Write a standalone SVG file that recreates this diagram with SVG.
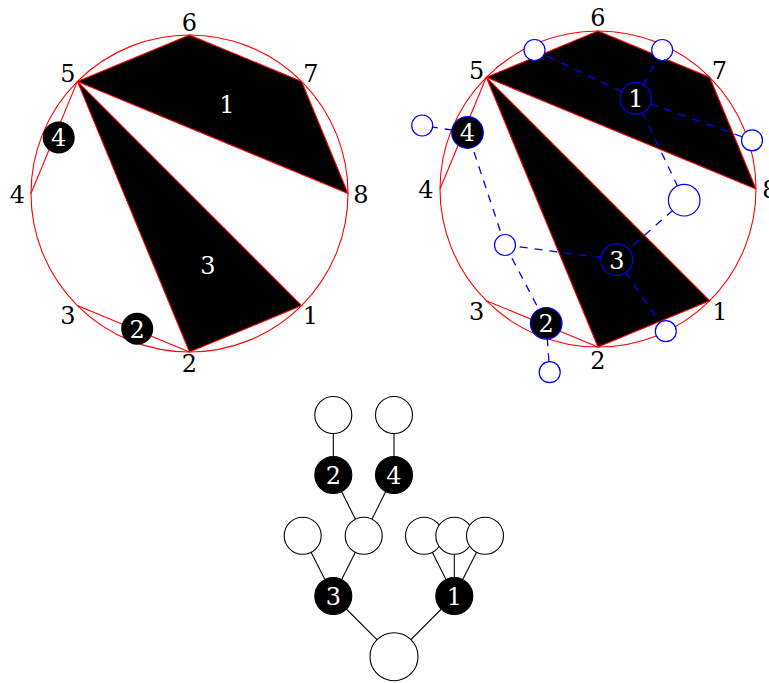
<svg xmlns="http://www.w3.org/2000/svg" width="769" height="683" viewBox="0 0 769 683">
<style>
.bg{fill:#ffffff}
.ring{fill:none;stroke:#ff0000;stroke-width:1.1}
.poly{fill:#000000;stroke:#ff0000;stroke-width:1.1;stroke-linejoin:round}
.chord{fill:none;stroke:#ff0000;stroke-width:1.1}
text{font-family:'DejaVu Serif',serif;font-size:24px;text-anchor:middle}
.lbl{fill:#000000}
.wl{fill:#ffffff}
.blk{fill:#000000;stroke:none}
.bdash{stroke:#0000ff;stroke-width:1.3;stroke-dasharray:8 7;fill:none}
.bo{fill:#ffffff;stroke:#0000ff;stroke-width:1.2}
.bb{fill:#000000;stroke:#0000ff;stroke-width:1.2}
.edge{stroke:#000000;stroke-width:1.1;fill:none}
.tw{fill:#ffffff;stroke:#000000;stroke-width:1.1}
.tb{fill:#000000;stroke:#000000;stroke-width:1.1}
</style>
<rect class="bg" x="0" y="0" width="769" height="683"/>

<!-- LEFT DIAGRAM -->
<g id="left-polygon">
  <circle class="ring" cx="189.5" cy="193.5" r="158.5"/>
  <polygon class="poly" points="77.4,81.4 189.5,35 301.6,81.4 348,193.5"/>
  <polygon class="poly" points="77.4,81.4 189.5,352 301.6,305.6"/>
  <line class="chord" x1="77.4" y1="81.4" x2="31" y2="193.5"/>
  <line class="chord" x1="77.4" y1="305.6" x2="189.5" y2="352"/>
</g>
<g id="left-labels">
  <text class="lbl" x="189.5" y="30.8">6</text>
  <text class="lbl" x="311" y="82.1">7</text>
  <text class="lbl" x="67.8" y="82.1">5</text>
  <text class="lbl" x="17.5" y="202.8">4</text>
  <text class="lbl" x="361" y="202.8">8</text>
  <text class="lbl" x="67.8" y="323.8">3</text>
  <text class="lbl" x="310.5" y="323.8">1</text>
  <text class="lbl" x="189.5" y="371.8">2</text>
  <text class="wl" x="227" y="112.6">1</text>
  <text class="wl" x="208" y="274.3">3</text>
</g>
<g id="left-node-4">
  <circle class="blk" cx="58.7" cy="137.5" r="16"/>
  <text class="wl" x="58.7" y="146.3">4</text>
</g>
<g id="left-node-2">
  <circle class="blk" cx="137.2" cy="328.8" r="16"/>
  <text class="wl" x="137.2" y="337.6">2</text>
</g>

<!-- RIGHT DIAGRAM -->
<g id="right-polygon">
  <circle class="ring" cx="598" cy="189" r="158"/>
  <polygon class="poly" points="486.3,77.3 598,31 709.7,77.3 756,189"/>
  <polygon class="poly" points="486.3,77.3 598,347 709.7,300.7"/>
  <line class="chord" x1="486.3" y1="77.3" x2="440" y2="189"/>
  <line class="chord" x1="486.3" y1="300.7" x2="598" y2="347"/>
</g>
<g id="right-labels">
  <text class="lbl" x="598" y="26.3">6</text>
  <text class="lbl" x="719.5" y="78.8">7</text>
  <text class="lbl" x="476.7" y="78.8">5</text>
  <text class="lbl" x="426" y="197.8">4</text>
  <text class="lbl" x="770" y="197.8">8</text>
  <text class="lbl" x="476.7" y="319.8">3</text>
  <text class="lbl" x="720" y="319.8">1</text>
  <text class="lbl" x="598" y="368.8">2</text>
</g>
<g id="dual-connectors">
  <line class="bdash" x1="635.8" y1="98.5" x2="534.5" y2="50"/>
  <line class="bdash" x1="635.8" y1="98.5" x2="662.2" y2="50"/>
  <line class="bdash" x1="635.8" y1="98.5" x2="752" y2="140.3"/>
  <line class="bdash" x1="635.8" y1="98.5" x2="684.2" y2="200.2"/>
  <line class="bdash" x1="684.2" y1="200.2" x2="616.8" y2="259.7"/>
  <line class="bdash" x1="616.8" y1="259.7" x2="505" y2="245"/>
  <line class="bdash" x1="616.8" y1="259.7" x2="665.8" y2="331.2"/>
  <line class="bdash" x1="505" y1="245" x2="467.5" y2="132.5"/>
  <line class="bdash" x1="505" y1="245" x2="546.2" y2="323.3"/>
  <line class="bdash" x1="467.5" y1="132.5" x2="422.2" y2="125.5"/>
  <line class="bdash" x1="546.2" y1="323.3" x2="549.7" y2="372.2"/>
</g>
<g id="dual-leaf-a"><circle class="bo" cx="534.5" cy="50" r="10.5"/></g>
<g id="dual-leaf-b"><circle class="bo" cx="662.2" cy="50" r="10.5"/></g>
<g id="dual-leaf-c"><circle class="bo" cx="752" cy="140.3" r="10.5"/></g>
<g id="dual-leaf-d"><circle class="bo" cx="422.2" cy="125.5" r="10.5"/></g>
<g id="dual-joint"><circle class="bo" cx="505" cy="245" r="10.5"/></g>
<g id="dual-root"><circle class="bo" cx="684.2" cy="200.2" r="15.8"/></g>
<g id="dual-leaf-e"><circle class="bo" cx="665.8" cy="331.2" r="10.5"/></g>
<g id="dual-leaf-f"><circle class="bo" cx="549.7" cy="372.2" r="10.5"/></g>
<g id="dual-node-1">
  <circle class="bb" cx="635.8" cy="98.5" r="15.8"/>
  <text class="wl" x="635.8" y="107.3">1</text>
</g>
<g id="dual-node-3">
  <circle class="bb" cx="616.8" cy="259.7" r="15.8"/>
  <text class="wl" x="616.8" y="268.5">3</text>
</g>
<g id="dual-node-4">
  <circle class="bb" cx="467.5" cy="132.5" r="15.8"/>
  <text class="wl" x="467.5" y="141.3">4</text>
</g>
<g id="dual-node-2">
  <circle class="bb" cx="546.2" cy="323.3" r="15.8"/>
  <text class="wl" x="546.2" y="332.1">2</text>
</g>

<!-- TREE -->
<g id="tree-connectors">
  <line class="edge" x1="333.3" y1="415" x2="333.3" y2="475"/>
  <line class="edge" x1="394" y1="415" x2="394" y2="475"/>
  <line class="edge" x1="333.3" y1="475" x2="363.7" y2="535.7"/>
  <line class="edge" x1="394" y1="475" x2="363.7" y2="535.7"/>
  <line class="edge" x1="363.7" y1="535.7" x2="333.3" y2="596"/>
  <line class="edge" x1="302.7" y1="535.7" x2="333.3" y2="596"/>
  <line class="edge" x1="333.3" y1="596" x2="394" y2="656.7"/>
  <line class="edge" x1="454.3" y1="596" x2="394" y2="656.7"/>
  <line class="edge" x1="454.3" y1="596" x2="424" y2="535.7"/>
  <line class="edge" x1="454.3" y1="596" x2="454.3" y2="535.7"/>
  <line class="edge" x1="454.3" y1="596" x2="485" y2="535.7"/>
</g>
<g id="tree-top-left"><circle class="tw" cx="333.3" cy="415" r="18.5"/></g>
<g id="tree-top-right"><circle class="tw" cx="394" cy="415" r="18.5"/></g>
<g id="tree-node-2">
  <circle class="tb" cx="333.3" cy="475" r="18.5"/>
  <text class="wl" x="333.3" y="483.8">2</text>
</g>
<g id="tree-node-4">
  <circle class="tb" cx="394" cy="475" r="18.5"/>
  <text class="wl" x="394" y="483.8">4</text>
</g>
<g id="tree-left"><circle class="tw" cx="302.7" cy="535.7" r="18.5"/></g>
<g id="tree-mid"><circle class="tw" cx="363.7" cy="535.7" r="18.5"/></g>
<g id="tree-r1"><circle class="tw" cx="424" cy="535.7" r="18.5"/></g>
<g id="tree-r2"><circle class="tw" cx="454.3" cy="535.7" r="18.5"/></g>
<g id="tree-r3"><circle class="tw" cx="485" cy="535.7" r="18.5"/></g>
<g id="tree-node-3">
  <circle class="tb" cx="333.3" cy="596" r="18.5"/>
  <text class="wl" x="333.3" y="604.8">3</text>
</g>
<g id="tree-node-1">
  <circle class="tb" cx="454.3" cy="596" r="18.5"/>
  <text class="wl" x="454.3" y="604.8">1</text>
</g>
<g id="tree-root"><circle class="tw" cx="394" cy="656.7" r="24"/></g>
</svg>
